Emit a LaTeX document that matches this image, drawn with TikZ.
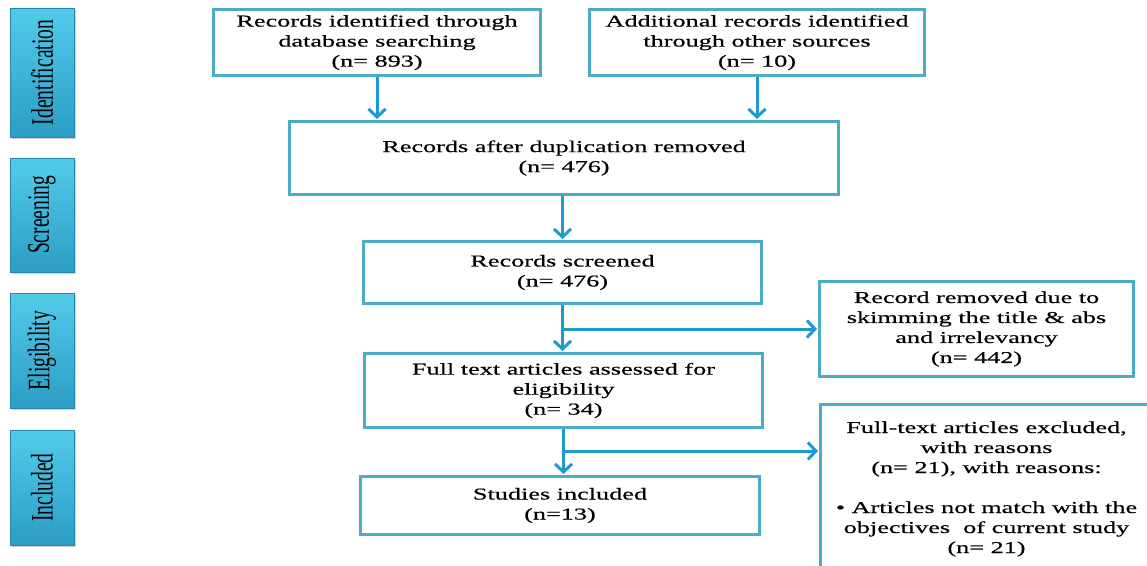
\documentclass[tikz,border=0pt]{standalone}
\usepackage{fontspec}
\setmainfont{Liberation Serif}
\newfontfamily\boxfont[FakeStretch=1.58,FakeBold=0.5]{Liberation Serif}
\usepackage{graphicx}
\usepackage{tikz}
\usetikzlibrary{positioning,arrows.meta,shadows}
\definecolor{frame}{HTML}{4BACC6}
\definecolor{flowc}{HTML}{1D9AD0}
\definecolor{phasehi}{HTML}{52CBEA}
\definecolor{phaselo}{HTML}{2C9DC4}
\definecolor{phaseedge}{HTML}{2488AA}

\newcommand{\vlab}[1]{\rotatebox{90}{\scalebox{1}[1.6]{#1}}}

\tikzset{
  flowbox/.style={draw=frame, line width=3pt, fill=white, align=center, inner sep=2pt,
    font=\boxfont\fontsize{16.6}{20}\selectfont},
  phase/.style={draw=phaseedge, line width=0.6pt, top color=phasehi, bottom color=phaselo,
    minimum width=64, inner sep=0pt,
    drop shadow={shadow xshift=2pt, shadow yshift=-2pt, opacity=0.35},
    font=\fontsize{19.5}{20}\selectfont},
  flow/.style={draw=flowc, line width=3pt, shorten >=1pt,
    -{Straight Barb[length=8pt,width=17pt]}},
}

\begin{document}
\begin{tikzpicture}[x=1pt, y=-1pt]
  \useasboundingbox (0,0) rectangle (1147,565);
  \clip (0,0) rectangle (1147,565);

  % phase labels on the left
  \foreach \name/\yc/\h/\txt in {ident/72.5/129/Identification, screen/215/114/Screening,
      elig/350.5/115/Eligibility, incl/487.5/115/Included}
    \node[phase, minimum height=\h] (ph-\name) at (42,\yc) {\vlab{\txt}};

  % boxes
  \node[flowbox, minimum width=327, minimum height=66] (dbsearch) at (377,42.5)
    {Records identified through\\ database searching\\ (n= 893)};
  \node[flowbox, minimum width=335, minimum height=66] (othersrc) at (757,42.5)
    {Additional records identified\\ through other sources\\ (n= 10)};
  \node[flowbox, minimum width=549, minimum height=73] (dedup) at (564,158)
    {Records after duplication removed\\ (n= 476)};
  \node[flowbox, minimum width=398, minimum height=62] (screened) at (562.5,272.5)
    {Records screened\\ (n= 476)};
  \node[flowbox, minimum width=398, minimum height=74] (fulltext) at (563.5,390.5)
    {Full text articles assessed for\\ eligibility\\ (n= 34)};
  \node[flowbox, minimum width=399, minimum height=58] (included) at (560,505.5)
    {Studies included\\ (n=13)};
  \node[flowbox, minimum width=314, minimum height=95] (removed) at (976.5,329)
    {Record removed due to\\ skimming the title \& abs\\ and irrelevancy\\ (n= 442)};
  \node[flowbox, minimum width=332, minimum height=169] (excluded) at (986.5,489)
    {Full-text articles excluded,\\ with reasons\\ (n= 21), with reasons:\\[20pt]
     \textbullet\ Articles not match with the\\ objectives~ of current study\\ (n= 21)};
  \coordinate (excl-in) at ([yshift=38pt]excluded.west);

  % arrows
  \draw[flow] (dbsearch.south) -- (dbsearch.south |- dedup.north);
  \draw[flow] (othersrc.south) -- (othersrc.south |- dedup.north);
  \draw[flow] (screened.north |- dedup.south) -- (screened.north);
  \draw[flow] (screened.south) -- (screened.south |- fulltext.north);
  \draw[flow] (screened.south |- removed.west) -- (removed.west);
  \draw[flow] (fulltext.south) -- (fulltext.south |- included.north);
  \draw[flow] (fulltext.south |- excl-in) -- (excl-in);
\end{tikzpicture}
\end{document}
